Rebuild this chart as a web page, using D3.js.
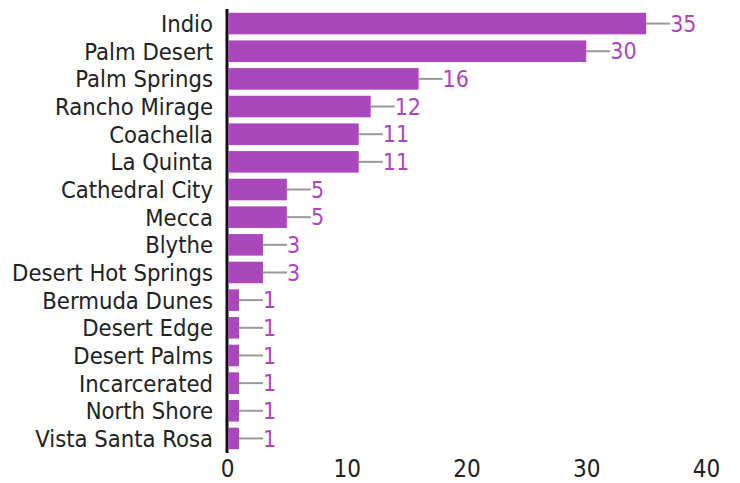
<!DOCTYPE html>
<html><head><meta charset="utf-8">
<script src="https://cdn.jsdelivr.net/npm/d3@7"></script>
<style>body{margin:0;background:#fff}</style>
</head><body>
<svg id="c" width="740" height="483"></svg>
<script>
const categories = ["Indio","Palm Desert","Palm Springs","Rancho Mirage","Coachella","La Quinta","Cathedral City","Mecca","Blythe","Desert Hot Springs","Bermuda Dunes","Desert Edge","Desert Palms","Incarcerated","North Shore","Vista Santa Rosa"];
const values = [35,30,16,12,11,11,5,5,3,3,1,1,1,1,1,1];
const xTicks = [0,10,20,30,40];

const svg = d3.select("#c");
const font = "'DejaVu Sans Condensed', 'DejaVu Sans', sans-serif";
const x = d3.scaleLinear().domain([0,40]).range([227,706]);
const y = d3.scaleBand().domain(categories).range([10,452]).paddingInner(0.22).paddingOuter(0.1);

svg.append("line").attr("x1",227).attr("x2",227).attr("y1",9).attr("y2",453)
  .attr("stroke","#111").attr("stroke-width",3);

const g = svg.append("g");
const data = categories.map((c,i)=>({c, v: values[i]}));
g.selectAll("rect").data(data).join("rect")
  .attr("x", x(0)+1).attr("y", d=>y(d.c)).attr("width", d=>x(d.v)-x(0)-1)
  .attr("height", y.bandwidth()).attr("fill","#ab47bc");

g.selectAll("line.lead").data(data).join("line").attr("class","lead")
  .attr("x1", d=>x(d.v)).attr("x2", d=>x(d.v)+24)
  .attr("y1", d=>y(d.c)+y.bandwidth()/2).attr("y2", d=>y(d.c)+y.bandwidth()/2)
  .attr("stroke","#999").attr("stroke-width",2);

g.selectAll("text.val").data(data).join("text").attr("class","val")
  .attr("x", d=>x(d.v)+24).attr("y", d=>y(d.c)+y.bandwidth()/2)
  .attr("dy","0.36em").attr("fill","#ab47bc").attr("font-family",font).attr("font-size",23)
  .text(d=>d.v);

g.selectAll("text.cat").data(data).join("text").attr("class","cat")
  .attr("x", 213).attr("y", d=>y(d.c)+y.bandwidth()/2)
  .attr("dy","0.36em").attr("text-anchor","end").attr("fill","#222").attr("font-family",font).attr("font-size",23.6)
  .text(d=>d.c);

const ax = svg.append("g").attr("transform","translate(0,454)")
  .call(d3.axisBottom(x).tickValues(xTicks).tickSize(0).tickPadding(6));
ax.select(".domain").remove();
ax.selectAll("text").attr("font-family",font).attr("font-size",24).attr("fill","#222");
</script>
</body></html>
